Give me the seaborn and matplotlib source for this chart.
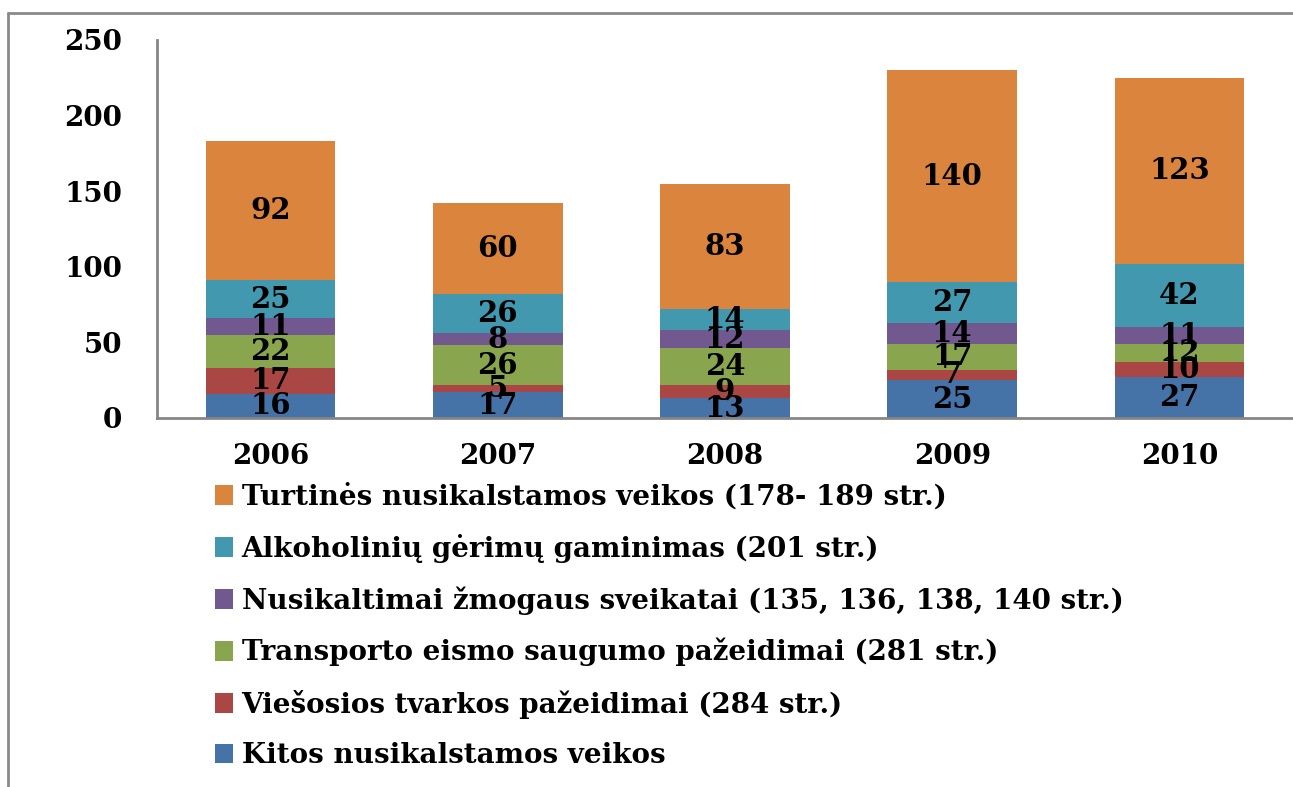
import numpy as np
import pandas as pd
import matplotlib
matplotlib.use("Agg")
import matplotlib.pyplot as plt
from matplotlib.patches import Patch
from matplotlib.lines import Line2D
import seaborn as sns

years = ["2006", "2007", "2008", "2009", "2010"]

# bottom -> top
kitos = [16, 17, 13, 25, 27]
viesosios = [17, 5, 9, 7, 10]
transporto = [22, 26, 24, 17, 12]
zmogaus = [11, 8, 12, 14, 11]
alkoholiniu = [25, 26, 14, 27, 42]
turtines = [92, 60, 83, 140, 123]

series_names = [
    "Kitos nusikalstamos veikos",
    "Viešosios tvarkos pažeidimai (284 str.)",
    "Transporto eismo saugumo pažeidimai (281 str.)",
    "Nusikaltimai žmogaus sveikatai (135, 136, 138, 140 str.)",
    "Alkoholinių gėrimų gaminimas (201 str.)",
    "Turtinės nusikalstamos veikos (178- 189 str.)",
]
series_vals = [kitos, viesosios, transporto, zmogaus, alkoholiniu, turtines]
colors = ["#4572A7", "#AA4643", "#89A54E", "#71588F", "#4198AF", "#DB843D"]

sns.set_theme(style="white")
plt.rcParams["font.family"] = ["DejaVu Serif", "Liberation Serif"]
plt.rcParams["font.weight"] = "bold"
FS = 20

fig = plt.figure(figsize=(12.93, 7.87), dpi=100)
ax = fig.add_axes([157 / 1293, 1 - 418 / 787, 1 - 157 / 1293, (418 - 40) / 787])

vals = np.array(series_vals)
tops = np.cumsum(vals, axis=0)

# draw cumulative bars from the top series down so they overlap into stacks
for i in range(len(series_names) - 1, -1, -1):
    df = pd.DataFrame({"year": years, "top": tops[i]})
    sns.barplot(data=df, x="year", y="top", color=colors[i], width=0.57,
                saturation=1, ax=ax, edgecolor="none")

for i in range(len(series_names)):
    for j in range(len(years)):
        mid = tops[i][j] - vals[i][j] / 2
        ax.text(j, mid, str(vals[i][j]), ha="center", va="center",
                fontsize=FS + 1, fontweight="bold", color="black")

ax.set_ylim(0, 250)
ax.set_xlim(-0.5, 4.5)
ax.set_yticks([0, 50, 100, 150, 200, 250])
ax.set_xlabel("")
ax.set_ylabel("")
ax.tick_params(axis="y", length=0, pad=25, labelsize=FS, labelcolor="black")
ax.tick_params(axis="x", length=0, pad=18, labelsize=FS, labelcolor="black")
for lab in ax.get_xticklabels() + ax.get_yticklabels():
    lab.set_fontweight("bold")
for s in ["top", "right"]:
    ax.spines[s].set_visible(False)
for s in ["left", "bottom"]:
    ax.spines[s].set_color("#868686")
    ax.spines[s].set_linewidth(2)

handles = [Patch(facecolor=colors[i], edgecolor="none", label=series_names[i])
           for i in range(len(series_names) - 1, -1, -1)]
fig.legend(handles=handles, loc="upper left", bbox_to_anchor=(204 / 1293, 1 - 472 / 787),
           frameon=False, prop={"weight": "bold", "size": FS}, borderaxespad=0,
           labelcolor="black",
           handlelength=0.65, handleheight=0.72, handletextpad=0.3, labelspacing=0.84)

# outer frame (left and top edges visible)
fig.add_artist(Line2D([8 / 1293, 8 / 1293], [0, 1 - 13 / 787], color="#8a8a8a", lw=2,
                      transform=fig.transFigure))
fig.add_artist(Line2D([8 / 1293, 1], [1 - 13 / 787, 1 - 13 / 787], color="#8a8a8a", lw=2,
                      transform=fig.transFigure))

fig.savefig("out.png", dpi=100)
